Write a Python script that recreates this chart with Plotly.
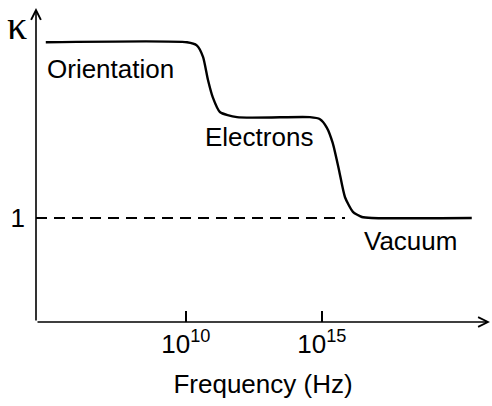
import plotly.graph_objects as go

# Schematic dielectric constant vs. frequency (log10 of frequency in Hz)
log_freq = [4.85, 10.04, 10.40, 10.63, 10.81, 10.99, 11.25, 11.88,
            14.56, 14.93, 15.18, 15.40, 15.63, 15.85, 16.14, 16.47, 16.84, 20.51]
kappa = [2.69, 2.69, 2.66, 2.55, 2.33, 2.16, 2.02, 1.97,
         1.97, 1.95, 1.87, 1.72, 1.46, 1.20, 1.06, 1.01, 1.00, 1.00]

# Vacuum reference level
ref_log_freq = [4.49, 15.85]
ref_kappa = [1.0, 1.0]

tick_logs = [10, 15]
tick_labels = ["10<sup>10</sup>", "10<sup>15</sup>"]

regions = ["Orientation", "Electrons", "Vacuum"]
region_log_freq = [7.24, 12.68, 18.24]
region_kappa = [2.43, 1.78, 0.78]

x_range = [4.49, 21.18]
y_range = [0, 3.02]

FONT = "Liberation Sans, Arial, sans-serif"
FS = 26

fig = go.Figure()
fig.add_trace(go.Scatter(
    x=[10 ** v for v in ref_log_freq], y=ref_kappa, mode="lines",
    line=dict(color="black", width=2, dash="11px,7px"), hoverinfo="skip"))
fig.add_trace(go.Scatter(
    x=[10 ** v for v in log_freq], y=kappa, mode="lines",
    line=dict(color="black", width=2.4, shape="spline", smoothing=0.6),
    hoverinfo="skip"))

for name, lx, ky in zip(regions, region_log_freq, region_kappa):
    fig.add_annotation(x=lx, y=ky, text=name, showarrow=False,
                       font=dict(size=FS, color="black", family=FONT))

# Axis arrows
fig.add_annotation(xref="x domain", yref="y domain", axref="x domain", ayref="y domain",
                   x=1, y=0, ax=0, ay=0, text="", showarrow=True,
                   arrowhead=5, arrowsize=1.2, arrowwidth=1.6, arrowcolor="black")
fig.add_annotation(xref="x domain", yref="y domain", axref="x domain", ayref="y domain",
                   x=0, y=1, ax=0, ay=0, text="", showarrow=True,
                   arrowhead=5, arrowsize=1.2, arrowwidth=1.6, arrowcolor="black")

fig.add_annotation(xref="paper", yref="paper", x=-0.042, y=0.945, text="κ",
                   showarrow=False, xanchor="center", yanchor="middle",
                   font=dict(size=40, color="black", family="Liberation Serif, Times New Roman, serif"))

fig.update_layout(
    width=492, height=406,
    margin=dict(l=36, r=2, t=8, b=84),
    paper_bgcolor="white", plot_bgcolor="white",
    showlegend=False,
    font=dict(family=FONT, color="black"),
    xaxis=dict(type="log", range=x_range, showgrid=False, zeroline=False,
               showline=False,
               tickvals=[10 ** t for t in tick_logs], ticktext=tick_labels,
               ticks="inside", ticklen=11, tickwidth=1.5, tickcolor="black",
               ticklabelstandoff=4,
               tickfont=dict(size=FS, family=FONT),
               title=dict(text="Frequency (Hz)", font=dict(size=FS, family=FONT), standoff=16)),
    yaxis=dict(range=y_range, showgrid=False, zeroline=False, showline=False,
               tickvals=[1], ticktext=["1"], ticks="",
               ticklabelstandoff=10,
               tickfont=dict(size=FS, family=FONT)),
)

fig.write_html("out.html")
